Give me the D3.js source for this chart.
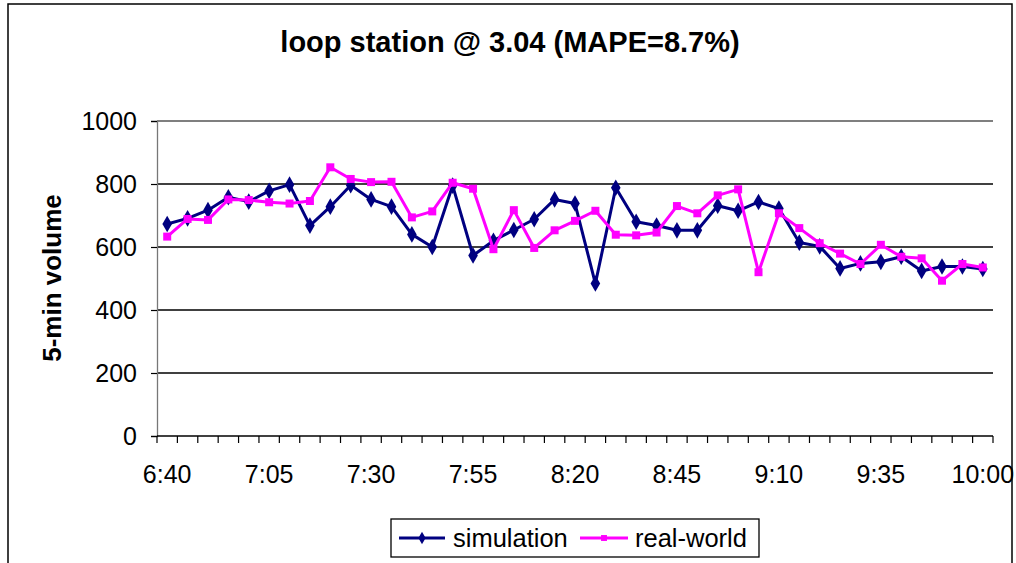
<!DOCTYPE html>
<html>
<head>
<meta charset="utf-8">
<script src="https://d3js.org/d3.v7.min.js"></script>
<style>
  body { margin: 0; background: #fff; }
  svg { display: block; font-family: Arial, "Liberation Sans", sans-serif; }
</style>
</head>
<body>
<div id="chart"></div>
<script>
// 5-minute intervals, 6:40 to 10:00
const times = [
    '6:40', '6:45', '6:50', '6:55', '7:00', '7:05', '7:10', '7:15', '7:20', '7:25',
    '7:30', '7:35', '7:40', '7:45', '7:50', '7:55', '8:00', '8:05', '8:10', '8:15',
    '8:20', '8:25', '8:30', '8:35', '8:40', '8:45', '8:50', '8:55', '9:00', '9:05',
    '9:10', '9:15', '9:20', '9:25', '9:30', '9:35', '9:40', '9:45', '9:50', '9:55',
    '10:00'
];

const simulation = [
    673, 691, 717, 758, 744, 778, 798, 668, 728, 796,
    751, 728, 640, 600, 795, 573, 620, 654, 688, 751,
    738, 484, 788, 680, 668, 653, 653, 731, 715, 743,
    722, 614, 602, 532, 548, 553, 569, 524, 538, 538,
    530
];

const realWorld = [
    633, 689, 686, 751, 749, 742, 738, 746, 853, 816,
    806, 807, 694, 713, 804, 785, 593, 717, 597, 653,
    683, 715, 639, 637, 646, 730, 707, 764, 783, 520,
    707, 660, 612, 579, 546, 607, 569, 564, 493, 546,
    535
];

const yTicks = [0, 200, 400, 600, 800, 1000];
const xLabels = ['6:40', '7:05', '7:30', '7:55', '8:20', '8:45', '9:10', '9:35', '10:00'];

const width = 1016, height = 563;
const plotLeft = 157, plotRight = 993, plotTop = 121, plotBottom = 436;

const svg = d3.select('#chart').append('svg')
    .attr('width', width)
    .attr('height', height);

// outer chart border
svg.append('rect')
    .attr('x', 8).attr('y', 4)
    .attr('width', 1004).attr('height', 600)
    .attr('fill', 'none')
    .attr('stroke', '#000')
    .attr('stroke-width', 1.5);

const x = d3.scaleBand().domain(times).range([plotLeft, plotRight]).padding(0);
const y = d3.scaleLinear().domain([0, 1000]).range([plotBottom, plotTop]);
const cx = d => x(d) + x.bandwidth() / 2;

// gridlines
svg.append('g')
    .selectAll('line')
    .data(yTicks.filter(d => d > 0))
    .join('line')
    .attr('x1', plotLeft).attr('x2', plotRight)
    .attr('y1', d => y(d)).attr('y2', d => y(d))
    .attr('stroke', d => d === 1000 ? '#555' : '#000')
    .attr('stroke-width', 1.3);

// y axis
const yAxis = svg.append('g')
    .attr('transform', `translate(${plotLeft},0)`)
    .call(d3.axisLeft(y).tickValues(yTicks).tickFormat(d3.format('d')).tickSize(6).tickPadding(14));
yAxis.select('.domain').attr('stroke', '#777').attr('stroke-width', 1.3);
yAxis.selectAll('.tick line').attr('stroke', '#000').attr('stroke-width', 1.2);
yAxis.selectAll('.tick text')
    .attr('fill', '#000')
    .style('font-size', '25px')
    .style('font-family', 'Arial, "Liberation Sans", sans-serif');

// x axis line
svg.append('line')
    .attr('x1', plotLeft).attr('x2', plotRight)
    .attr('y1', plotBottom).attr('y2', plotBottom)
    .attr('stroke', '#000').attr('stroke-width', 1.3);

// x tick marks at category boundaries
const bounds = times.map(t => x(t)).concat([plotRight]);
svg.append('g')
    .selectAll('line')
    .data(bounds)
    .join('line')
    .attr('x1', d => d).attr('x2', d => d)
    .attr('y1', plotBottom).attr('y2', plotBottom + 7)
    .attr('stroke', '#000').attr('stroke-width', 1.2);

// x labels
svg.append('g')
    .selectAll('text')
    .data(xLabels)
    .join('text')
    .attr('x', d => cx(d))
    .attr('y', 483)
    .attr('text-anchor', 'middle')
    .style('font-size', '25px')
    .text(d => d);

// title
svg.append('text')
    .attr('x', 510).attr('y', 52)
    .attr('text-anchor', 'middle')
    .style('font-size', '29px')
    .style('font-weight', 'bold')
    .text('loop station @ 3.04 (MAPE=8.7%)');

// y axis title
svg.append('text')
    .attr('transform', 'translate(61,278) rotate(-90)')
    .attr('text-anchor', 'middle')
    .style('font-size', '26px')
    .style('font-weight', 'bold')
    .text('5-min volume');

const line = d3.line().x(d => cx(d.t)).y(d => y(d.v));
const series = [
    { name: 'simulation', values: simulation, color: '#000080', shape: d3.symbolDiamond, size: 80 },
    { name: 'real-world', values: realWorld, color: '#FF00FF', shape: d3.symbolSquare, size: 64 }
];

// simulation first, real-world on top
series.forEach(s => {
    const pts = s.values.map((v, i) => ({ t: times[i], v }));
    svg.append('path')
        .datum(pts)
        .attr('d', line)
        .attr('fill', 'none')
        .attr('stroke', s.color)
        .attr('stroke-width', 3)
        .attr('stroke-linejoin', 'round');
    svg.append('g')
        .selectAll('path')
        .data(pts)
        .join('path')
        .attr('transform', d => `translate(${cx(d.t)},${y(d.v)})`)
        .attr('d', d3.symbol().type(s.shape).size(s.size))
        .attr('fill', s.color);
});

// legend
const legend = svg.append('g');
legend.append('rect')
    .attr('x', 391).attr('y', 519)
    .attr('width', 368).attr('height', 38)
    .attr('fill', '#fff')
    .attr('stroke', '#000')
    .attr('stroke-width', 1.3);

const legendItems = [
    { s: series[0], x0: 399, x1: 445, tx: 453 },
    { s: series[1], x0: 580, x1: 628, tx: 635 }
];
legendItems.forEach(d => {
    legend.append('line')
        .attr('x1', d.x0).attr('x2', d.x1)
        .attr('y1', 538).attr('y2', 538)
        .attr('stroke', d.s.color).attr('stroke-width', 3);
    legend.append('path')
        .attr('transform', `translate(${(d.x0 + d.x1) / 2},538)`)
        .attr('d', d3.symbol().type(d.s.shape).size(d.s.size * 0.55))
        .attr('fill', d.s.color);
    legend.append('text')
        .attr('x', d.tx).attr('y', 547)
        .style('font-size', '25.5px')
        .text(d.s.name);
});
</script>
</body>
</html>
